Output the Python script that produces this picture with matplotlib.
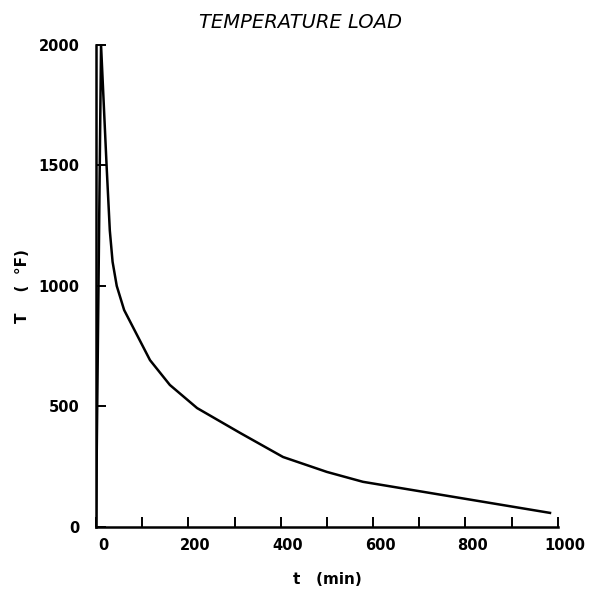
import matplotlib
matplotlib.use("Agg")
import matplotlib.pyplot as plt
from matplotlib.transforms import ScaledTranslation

# Data
time_min = [0, 11, 17, 23, 30, 36, 45, 61, 117, 160, 219, 312, 405, 500, 578, 983]
temp_F = [0, 2000, 1750, 1500, 1230, 1100, 1000, 900, 692, 589, 493, 390, 290, 228, 187, 58]

x_ticks = list(range(0, 1001, 100))
x_labels = ["0", "", "200", "", "400", "", "600", "", "800", "", "1000"]
y_ticks = [0, 500, 1000, 1500, 2000]
y_labels = ["0", "500", "1000", "1500", "2000"]

fig = plt.figure(figsize=(5.96, 5.96), dpi=100)
ax = fig.add_axes([0.161, 0.116, 0.775, 0.8085])

ax.plot(time_min, temp_F, color="black", linewidth=1.8)

ax.set_xlim(0, 1000)
ax.set_ylim(0, 2000)
ax.spines["top"].set_visible(False)
ax.spines["right"].set_visible(False)
for s in ("left", "bottom"):
    ax.spines[s].set_linewidth(1.8)

ax.set_xticks(x_ticks)
ax.set_xticklabels(x_labels, fontsize=10.5, fontweight="bold")
ax.set_yticks(y_ticks)
ax.set_yticklabels(y_labels, fontsize=10.5, fontweight="bold")
ax.tick_params(axis="both", direction="in", length=7, width=1.4, pad=8)
ax.tick_params(axis="y", pad=12)

offset = ScaledTranslation(5 / 72, 0, fig.dpi_scale_trans)
for lbl in ax.get_xticklabels():
    lbl.set_transform(lbl.get_transform() + offset)

ax.set_xlabel("t   (min)", fontsize=11, fontweight="bold", labelpad=14)
ax.set_ylabel("T    (  °F)", fontsize=11, fontweight="bold", labelpad=6)

fig.text(0.505, 0.963, "TEMPERATURE LOAD", fontsize=14, fontstyle="italic",
         ha="center", va="center")

fig.savefig("out.png", dpi=100)
